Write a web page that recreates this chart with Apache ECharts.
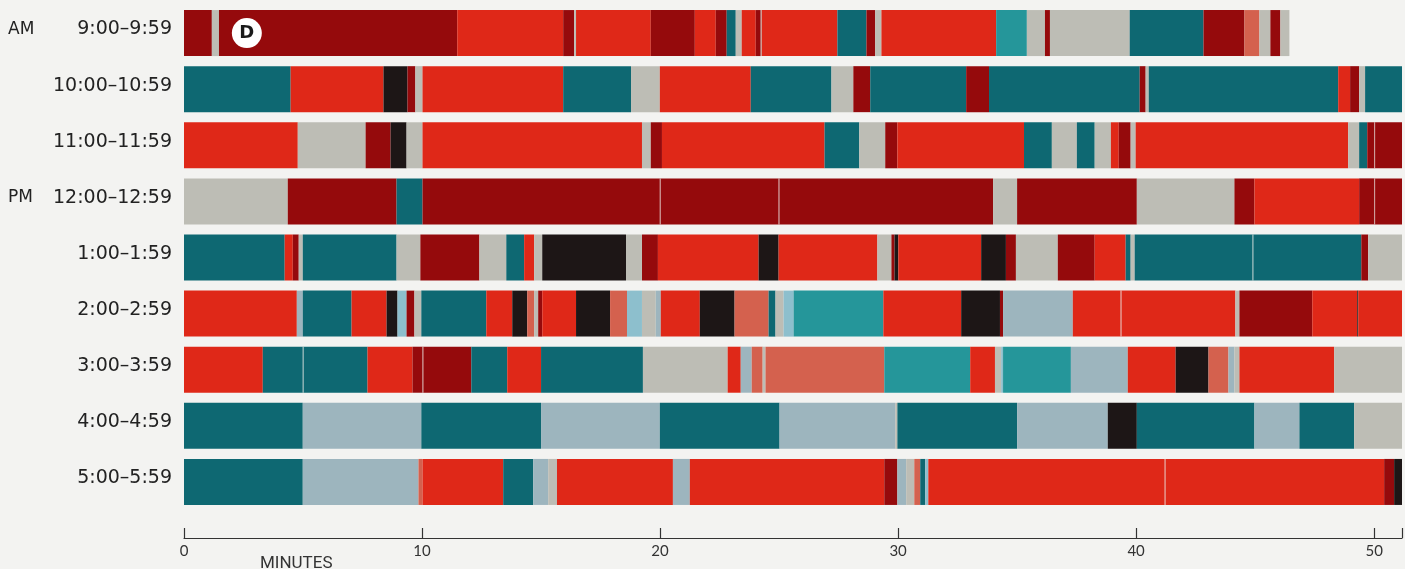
<!DOCTYPE html>
<html>
<head>
<meta charset="utf-8">
<script src="https://cdn.jsdelivr.net/npm/echarts@6/dist/echarts.min.js"></script>
<style>
html, body { margin: 0; padding: 0; background: #f3f3f1; }
#main { width: 1405px; height: 569px; }
</style>
</head>
<body>
<div id="main"></div>
<script>
// hour rows, top to bottom
var hours = ['9:00–9:59', '10:00–10:59', '11:00–11:59', '12:00–12:59', '1:00–1:59',
	'2:00–2:59', '3:00–3:59', '4:00–4:59', '5:00–5:59'];
var dayPart = ['AM', '', '', 'PM', '', '', '', '', ''];

// each segment: [colour key, end minute]; a segment starts where the previous one ended
var row09 = [['D',1.17],['G',1.47],['D',11.48],['R',15.93],['D',16.39],['G',16.47],['R',19.61],['D',21.46],
	['R',22.34],['D',22.80],['T',23.18],['G',23.43],['R',24.02],['D',24.23],['G',24.27],['R',27.45],['T',28.67],
	['D',29.04],['G',29.30],['R',34.12],['L',35.41],['G',36.17],['D',36.38],['G',39.73],['T',42.83],['D',44.55],
	['S',45.18],['G',45.64],['D',46.06],['G',46.44]];
var row10 = [['T',4.48],['R',8.38],['K',9.39],['D',9.72],['G',10.02],['R',15.93],['T',18.78],['G',19.99],
	['R',23.81],['T',27.20],['G',28.12],['D',28.83],['T',32.86],['D',33.82],['T',40.15],['D',40.40],['G',40.53],
	['T',48.49],['R',48.99],['D',49.37],['G',49.62],['T',52]];
var row11 = [['R',4.78],['G',7.63],['D',8.68],['K',9.35],['G',10.02],['R',19.24],['G',19.61],['D',20.08],
	['R',26.91],['T',28.37],['G',29.46],['D',29.97],['R',35.29],['T',36.46],['G',37.51],['T',38.26],['G',38.94],
	['R',39.27],['D',39.77],['G',39.98],['R',48.91],['G',49.37],['T',49.71],['D',50.0],['D',52]];
var row12 = [['G',4.36],['D',8.93],['T',10.02],['D',19.99],['D',24.98],['D',33.99],['G',35.0],['D',40.03],
	['G',44.13],['D',44.97],['R',49.37],['D',50.0],['D',52]];
var row01 = [['T',4.23],['R',4.57],['D',4.82],['G',4.99],['T',8.93],['G',9.93],['D',12.41],['G',13.54],
	['T',14.29],['R',14.71],['G',15.05],['K',18.57],['G',19.24],['D',19.91],['R',24.14],['K',24.98],['R',29.13],
	['G',29.72],['D',29.85],['K',30.01],['R',33.49],['K',34.53],['D',34.95],['G',36.71],['D',38.26],['R',39.56],
	['T',39.77],['G',39.94],['T',44.89],['T',49.46],['D',49.75],['G',52]];
var row02 = [['R',4.74],['B',4.99],['T',7.04],['R',8.51],['K',8.97],['C',9.35],['D',9.68],['G',9.97],
	['T',12.70],['R',13.79],['K',14.42],['S',14.71],['G',14.88],['D',15.05],['R',16.47],['K',17.90],['S',18.61],
	['C',19.24],['G',19.82],['B',20.03],['R',21.67],['K',23.13],['S',24.56],['T',24.85],['G',25.19],['C',25.61],
	['L',29.38],['R',32.65],['K',34.28],['D',34.41],['B',37.34],['R',39.35],['R',44.17],['G',44.34],['D',47.40],
	['R',49.29],['K',49.33],['R',52]];
var row03 = [['R',3.31],['T',4.99],['T',7.71],['R',9.60],['D',10.02],['D',12.07],['T',13.58],['R',15.0],
	['T',19.28],['G',22.84],['R',23.39],['B',23.85],['S',24.31],['G',24.43],['S',29.42],['L',33.03],['R',34.07],
	['G',34.33],['C',34.41],['L',37.26],['B',39.65],['R',41.66],['K',43.04],['S',43.88],['B',44.13],['G',44.34],
	['R',48.32],['G',52]];
var row04 = [['T',4.99],['B',9.97],['T',15.0],['B',19.99],['T',25.02],['B',29.88],['G',29.97],['T',35.0],
	['B',38.81],['K',40.03],['T',44.97],['B',46.86],['T',49.16],['G',52]];
var row05 = [['T',4.99],['B',9.85],['S',10.02],['R',13.41],['T',14.67],['B',15.30],['G',15.67],['R',20.54],
	['B',21.25],['R',29.42],['D',29.97],['B',30.34],['G',30.68],['S',30.93],['T',31.14],['C',31.27],['R',41.20],
	['R',50.42],['D',50.84],['K',52]];
var rows = [row09, row10, row11, row12, row01, row02, row03, row04, row05];

// where the "D" badge sits: [minute, row]
var badge = [2.64, 0];

var palette = {
	R: '#df2818', D: '#950a0c', T: '#0e6872', G: '#bdbdb5', B: '#9db5be',
	K: '#1d1616', S: '#d4614e', L: '#25969a', C: '#8dbfcd'
};

var segData = [];
rows.forEach(function (row, r) {
	var start = 0;
	row.forEach(function (seg, i) {
		var sameAsPrev = i > 0 && row[i - 1][0] === seg[0] ? 1 : 0;
		segData.push({ value: [start, seg[1], r, sameAsPrev], itemStyle: { color: palette[seg[0]] } });
		start = seg[1];
	});
});

function renderSegment(params, api) {
	var r = api.value(2);
	var p0 = api.coord([api.value(0), r]);
	var p1 = api.coord([api.value(1), r]);
	var h = api.size([0, 1])[1] * 0.82;
	var cs = params.coordSys;
	var rect = echarts.graphic.clipRectByRect(
		{ x: p0[0], y: p0[1] - h / 2, width: p1[0] - p0[0], height: h },
		{ x: cs.x, y: cs.y, width: cs.width, height: cs.height });
	if (!rect) return;
	var children = [{ type: 'rect', shape: rect, style: { fill: api.visual('color') } }];
	// thin light seam where two segments of the same colour meet
	if (api.value(3)) {
		children.push({ type: 'rect', shape: { x: rect.x, y: rect.y, width: 1, height: rect.height },
			style: { fill: 'rgba(235,235,230,0.7)' } });
	}
	return { type: 'group', children: children };
}

var myChart = echarts.init(document.getElementById('main'));
var option = {
	backgroundColor: '#f3f3f1',
	animation: false,
	grid: { left: 184, right: 0, top: 5, height: 505 },
	xAxis: {
		type: 'value',
		min: 0,
		max: 51.17,
		interval: 10,
		offset: 28,
		splitLine: { show: false },
		axisLine: { show: true, lineStyle: { color: '#333', width: 1.2 } },
		axisTick: { show: true, inside: true, length: 10, lineStyle: { color: '#333', width: 1.2 } },
		axisLabel: {
			margin: 6, fontSize: 15, color: '#333', fontFamily: 'Lato',
			formatter: function (v) { return v % 10 === 0 ? String(v) : ''; }
		}
	},
	yAxis: [{
		type: 'category',
		data: hours,
		inverse: true,
		axisLine: { show: false },
		axisTick: { show: false },
		axisLabel: {
			margin: 12, fontSize: 19, color: '#222', fontFamily: 'DejaVu Sans',
			verticalAlign: 'bottom', lineHeight: 7
		}
	}, {
		type: 'category',
		data: hours,
		inverse: true,
		position: 'left',
		offset: 0,
		axisLine: { show: false },
		axisTick: { show: false },
		axisLabel: {
			margin: 176, align: 'left', fontSize: 17, color: '#222', fontFamily: 'DejaVu Sans',
			verticalAlign: 'bottom', lineHeight: 7,
			formatter: function (v, i) { return dayPart[i]; }
		}
	}],
	graphic: [{
		type: 'text', left: 260, top: 555,
		style: { text: 'MINUTES', fontSize: 17, fill: '#333', fontFamily: 'Roboto' }
	}],
	series: [{
		type: 'custom',
		renderItem: renderSegment,
		encode: { x: [0, 1], y: 2 },
		data: segData
	}, {
		type: 'scatter',
		data: [badge],
		symbolSize: 30,
		itemStyle: { color: '#ffffff', opacity: 1 },
		label: {
			show: true, position: 'inside', formatter: 'D',
			fontSize: 18, fontWeight: 'bold', color: '#1a1a1a', fontFamily: 'DejaVu Sans'
		},
		z: 5
	}]
};
myChart.setOption(option);
</script>
</body>
</html>
